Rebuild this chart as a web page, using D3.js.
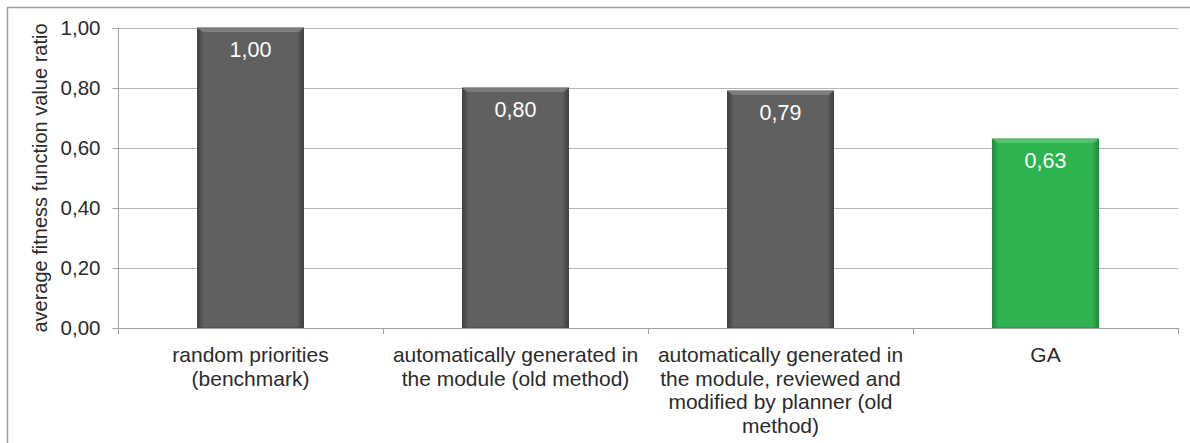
<!DOCTYPE html>
<html>
<head>
<meta charset="utf-8">
<script src="https://cdn.jsdelivr.net/npm/d3@7"></script>
<style>
  html, body { margin: 0; padding: 0; background: #fff; }
  svg { display: block; font-family: "Liberation Sans", Arial, sans-serif; }
</style>
</head>
<body>
<svg id="chart" width="1190" height="443"></svg>
<script>
// Category labels, one array entry per wrapped line
const categories = [
  ["random priorities", "(benchmark)"],
  ["automatically generated in", "the module (old method)"],
  ["automatically generated in", "the module, reviewed and", "modified by planner (old", "method)"],
  ["GA"]
];
const values = [1.00, 0.80, 0.79, 0.63];
const valueLabels = ["1,00", "0,80", "0,79", "0,63"];
const yTicks = [0, 0.2, 0.4, 0.6, 0.8, 1.0];
const yTickLabels = ["0,00", "0,20", "0,40", "0,60", "0,80", "1,00"];
const yTitle = "average fitness function value ratio";

const svg = d3.select("#chart");
const W = 1190, H = 443;
const margin = { left: 118, right: 12, top: 28, bottom: 115 };
const x0 = margin.left, x1 = W - margin.right;
const y0 = H - margin.bottom, y1 = margin.top;
const textColor = "#2b2b2b";

// outer frame
svg.append("path")
  .attr("d", `M7.5,${H} L7.5,7.5 L${W},7.5`)
  .attr("fill", "none").attr("stroke", "#a0a0a0").attr("stroke-width", 1.5);

const x = d3.scaleBand().domain(d3.range(categories.length)).range([x0, x1])
  .paddingInner(0.6).paddingOuter(0.3);
const y = d3.scaleLinear().domain([0, 1]).range([y0, y1]);

// gradients for the bevelled bars
const defs = svg.append("defs");
function barGrad(id, edge, mid) {
  const g = defs.append("linearGradient").attr("id", id).attr("x1", 0).attr("x2", 1).attr("y1", 0).attr("y2", 0);
  g.append("stop").attr("offset", "0%").attr("stop-color", edge);
  g.append("stop").attr("offset", "6%").attr("stop-color", mid);
  g.append("stop").attr("offset", "94%").attr("stop-color", mid);
  g.append("stop").attr("offset", "100%").attr("stop-color", edge);
}
barGrad("gGray", "#3f3f3f", "#606060");
barGrad("gGreen", "#1f8e38", "#2db34f");

// horizontal gridlines
svg.append("g").selectAll("line").data(yTicks.slice(1)).join("line")
  .attr("x1", x0).attr("x2", x1)
  .attr("y1", d => Math.round(y(d)) + 0.5).attr("y2", d => Math.round(y(d)) + 0.5)
  .attr("stroke", "#b4b4b4").attr("stroke-width", 1.2);

// y axis
const yAxis = d3.axisLeft(y).tickValues(yTicks).tickSize(6).tickPadding(12)
  .tickFormat((d, i) => yTickLabels[i]);
const gy = svg.append("g").attr("transform", `translate(${x0 + 0.5},0)`).call(yAxis);
gy.select(".domain").attr("stroke", "#a0a0a0").attr("d", `M-6,${y1 + 0.5}H0V${y0 + 0.5}`);
gy.selectAll(".tick line").attr("stroke", "#a0a0a0");
gy.selectAll(".tick text").attr("fill", textColor).style("font-size", "20.5px")
  .style("font-family", "Liberation Sans, Arial, sans-serif");

// bars
const isGA = i => i === categories.length - 1;
svg.append("g").selectAll("rect").data(values).join("rect")
  .attr("x", (d, i) => x(i)).attr("width", x.bandwidth())
  .attr("y", d => y(d)).attr("height", d => y0 - y(d))
  .attr("fill", (d, i) => isGA(i) ? "url(#gGreen)" : "url(#gGray)")
  .attr("stroke", (d, i) => isGA(i) ? "#238a3c" : "#474747").attr("stroke-width", 1);

// top bevel highlight
svg.append("g").selectAll("path").data(values).join("path")
  .attr("d", (d, i) => {
    const l = x(i), r = x(i) + x.bandwidth(), t = y(d);
    return `M${l},${t} L${r},${t} L${r - 5},${t + 4} L${l + 5},${t + 4} Z`;
  })
  .attr("fill", (d, i) => isGA(i) ? "#5cc777" : "#858585").attr("opacity", 0.8);

// value labels
svg.append("g").selectAll("text").data(values).join("text")
  .attr("x", (d, i) => x(i) + x.bandwidth() / 2)
  .attr("y", d => y(d) + 29)
  .attr("text-anchor", "middle").attr("fill", "#fff").style("font-size", "21.5px")
  .text((d, i) => valueLabels[i]);

// x axis line and category ticks
const xa = svg.append("g");
xa.append("line").attr("x1", x0).attr("x2", x1).attr("y1", y0 + 0.5).attr("y2", y0 + 0.5)
  .attr("stroke", "#a0a0a0").attr("stroke-width", 1.2);
const step = x.step();
xa.selectAll("line.tk").data(d3.range(categories.length + 1)).join("line").attr("class", "tk")
  .attr("x1", i => x0 + i * step + 0.5).attr("x2", i => x0 + i * step + 0.5)
  .attr("y1", y0).attr("y2", y0 + 6).attr("stroke", "#a0a0a0");

// category labels
const cl = svg.append("g").selectAll("text").data(categories).join("text")
  .attr("text-anchor", "middle").attr("fill", textColor).style("font-size", "21px")
  .attr("x", (d, i) => x(i) + x.bandwidth() / 2).attr("y", y0 + 34);
cl.selectAll("tspan").data(d => d).join("tspan")
  .attr("x", function () { return this.parentNode.getAttribute("x"); })
  .attr("dy", (d, j) => j === 0 ? 0 : 23.5)
  .text(d => d);

// y axis title
svg.append("text")
  .attr("transform", `translate(47,${(y0 + y1) / 2}) rotate(-90)`)
  .attr("text-anchor", "middle").attr("fill", textColor).style("font-size", "20px")
  .text(yTitle);
</script>
</body>
</html>
